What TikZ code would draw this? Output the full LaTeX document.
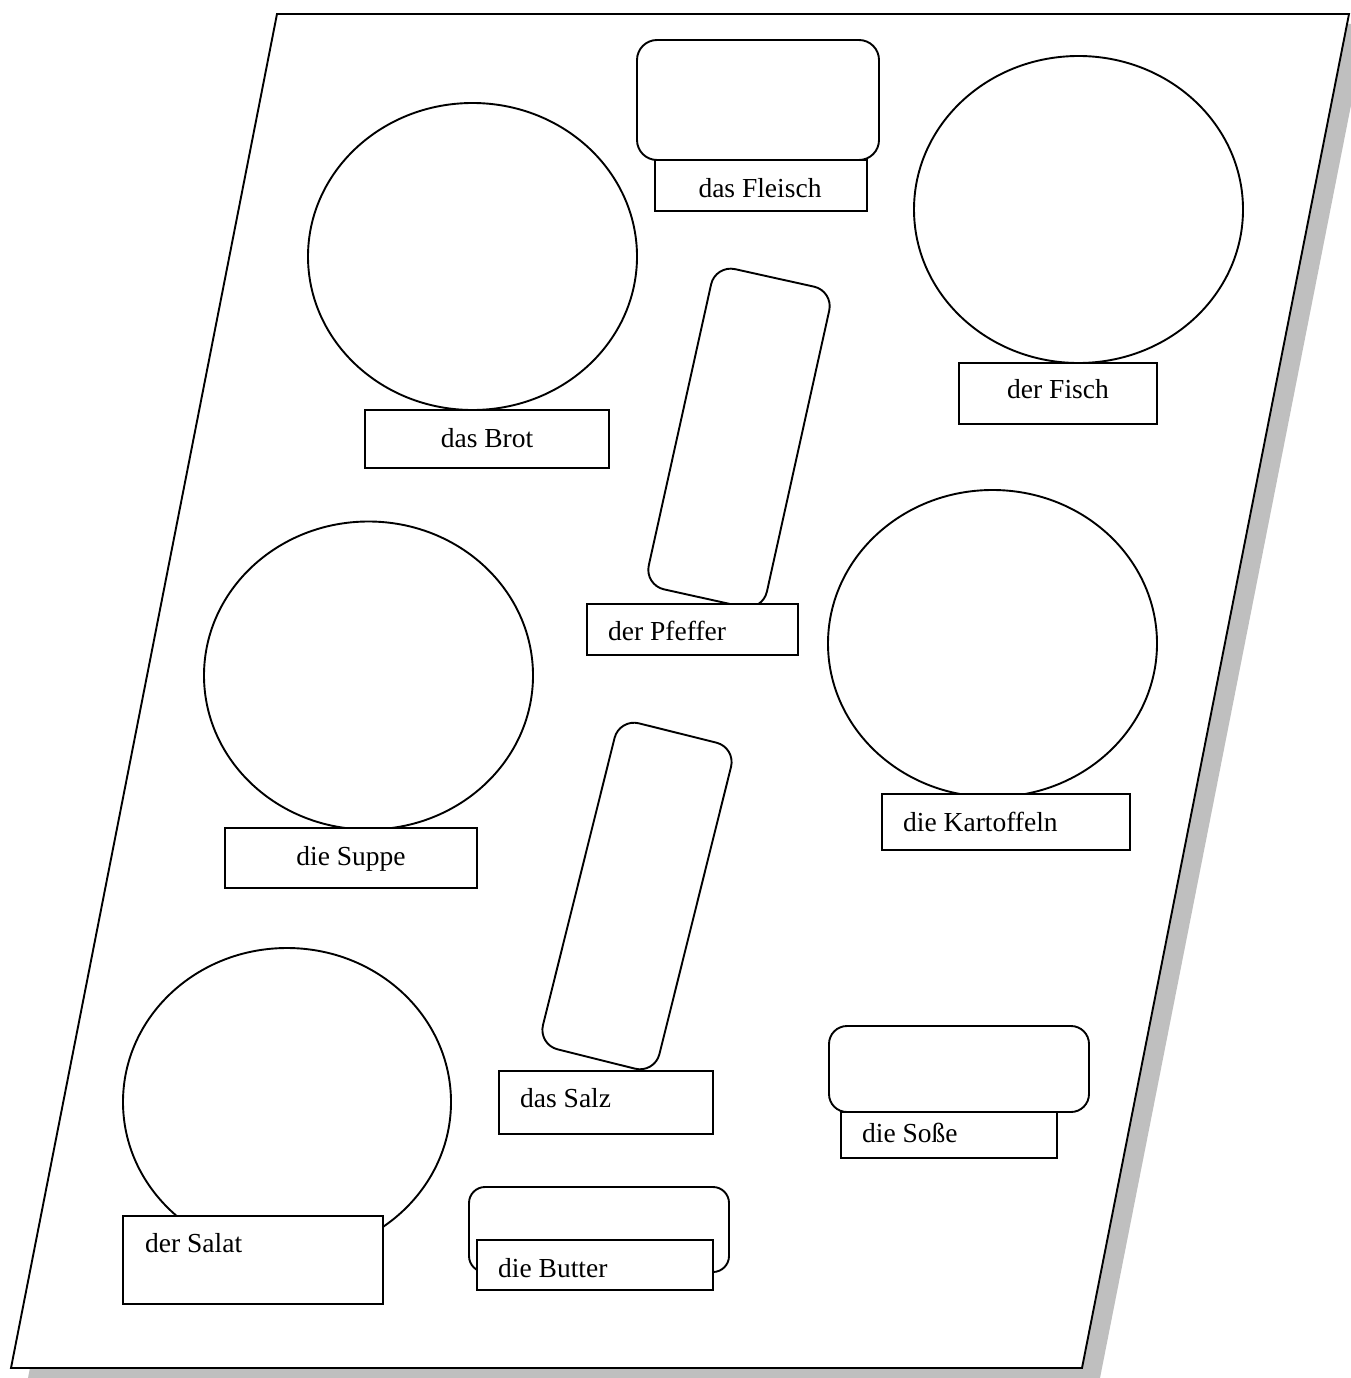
\documentclass[tikz,border=0pt]{standalone}
\usepackage{fontspec}
\setmainfont{Liberation Serif}
\usepackage{tikz}
\begin{document}
\begin{tikzpicture}[x=1pt,y=-1pt,
  every node/.style={font=\fontsize{27.5}{32}\selectfont},
  lw/.style={line width=1.9pt},
  tray/.style={rectangle, draw, lw, fill=white, inner sep=0pt},
  lbl/.style={rectangle, draw, lw, fill=white, inner sep=0pt},
  word/.style={inner sep=0pt}
]
\useasboundingbox (0,0) rectangle (1351,1378);
\clip (0,0) rectangle (1351,1378);
% shadow and sheet
\fill[gray!50] (295,24) -- (1367,24) -- (1100,1378) -- (28,1378) -- cycle;
\draw[lw, fill=white] (277,14) coordinate (s1) -- (1349,14) coordinate (s2) -- (1082,1368) coordinate (s3) -- (11,1368) coordinate (s4) -- cycle;

% circles
\draw[lw, fill=white] (472.5,256.5) ellipse [x radius=164.5, y radius=153.5];
\draw[lw, fill=white] (1078.5,209.5) ellipse [x radius=164.5, y radius=153.5];
\draw[lw, fill=white] (368.5,675.5) ellipse [x radius=164.5, y radius=154];
\draw[lw, fill=white] (992.5,643.5) ellipse [x radius=164.5, y radius=153.5];
\draw[lw, fill=white] (287,1102) ellipse [x radius=164, y radius=154];

% rounded trays
\node[tray, rounded corners=20pt, minimum width=242pt, minimum height=120pt] (fleischtray) at (758,100) {};
\node[tray, rounded corners=18pt, minimum width=260pt, minimum height=86pt] (sossetray) at (959,1069) {};
\node[tray, rounded corners=16pt, minimum width=260pt, minimum height=85pt] (buttertray) at (599,1229.5) {};
\node[tray, rounded corners=20pt, minimum width=121pt, minimum height=328pt, rotate=-12.5] (pfeffertray) at (739,438) {};
\node[tray, rounded corners=20pt, minimum width=120pt, minimum height=336pt, rotate=-14] (salztray) at (637,896) {};

% label boxes
\node[lbl, minimum width=244pt, minimum height=58pt] (brot) at (487,439) {};
\node[lbl, minimum width=198pt, minimum height=61pt] (fisch) at (1058,393.5) {};
\node[lbl, minimum width=252pt, minimum height=60pt] (suppe) at (351,858) {};
\node[lbl, minimum width=248pt, minimum height=56pt] (kartoffeln) at (1006,822) {};
\node[lbl, minimum width=260pt, minimum height=88pt] (salat) at (253,1260) {};
\node[lbl, minimum width=212pt, minimum height=51pt] (fleisch) at (761,185.5) {};
\node[lbl, minimum width=216pt, minimum height=46pt] (sosse) at (949,1135) {};
\node[lbl, minimum width=236pt, minimum height=50pt] (butter) at (595,1265) {};
\node[lbl, minimum width=211pt, minimum height=51pt] (pfeffer) at (692.5,629.5) {};
\node[lbl, minimum width=214pt, minimum height=63pt] (salz) at (606,1102.5) {};

% texts
\node[word, anchor=base] (tbrot) at (487,447) {das Brot};
\node[word, anchor=base] (tfisch) at (1058,398) {der Fisch};
\node[word, anchor=base] (tsuppe) at (351,865) {die Suppe};
\node[word, anchor=base] (tfleisch) at (760,197) {das Fleisch};
\node[word, anchor=base west] (tkartoffeln) at (903,831) {die Kartoffeln};
\node[word, anchor=base west] (tsalat) at (145,1252) {der Salat};
\node[word, anchor=base west] (tpfeffer) at (608,640) {der Pfeffer};
\node[word, anchor=base west] (tsalz) at (520,1107) {das Salz};
\node[word, anchor=base west] (tbutter) at (498,1277) {die Butter};
\node[word, anchor=base west] (tsosse) at (862,1142) {die Soße};
\end{tikzpicture}
\end{document}
